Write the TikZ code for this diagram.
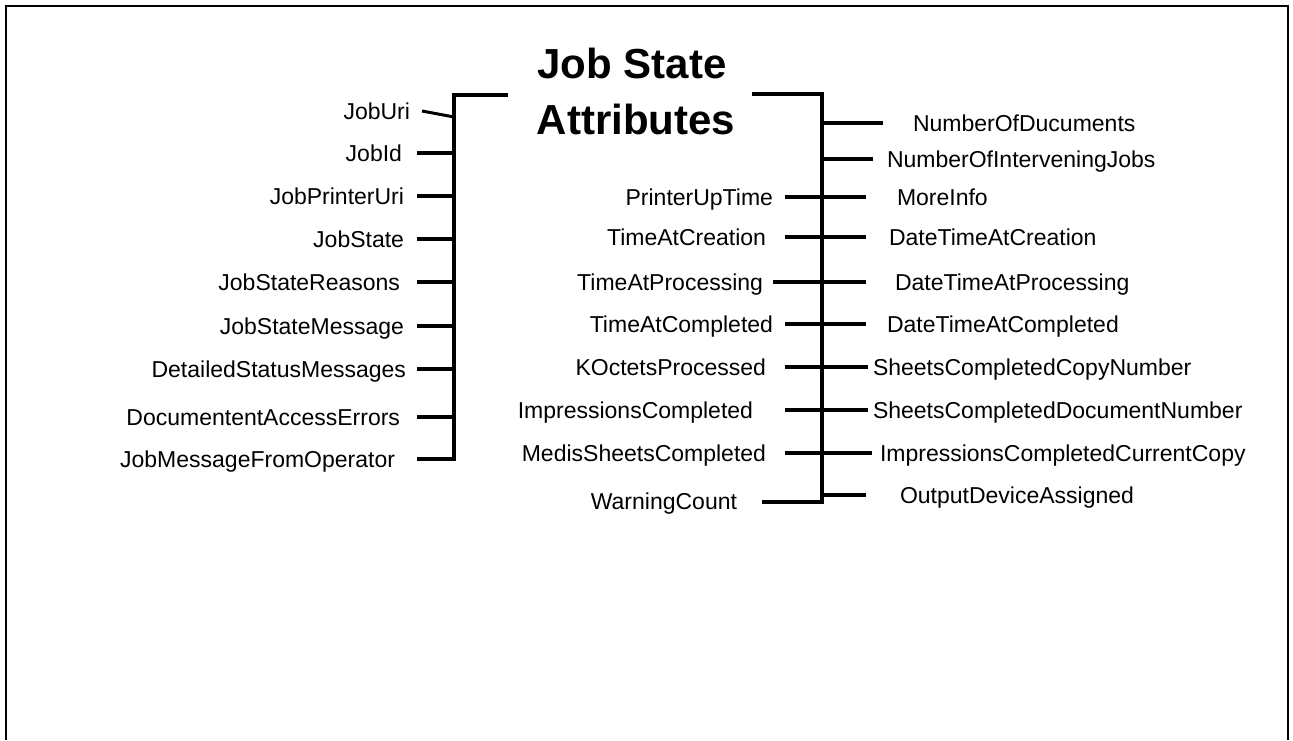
\documentclass[tikz,border=0pt]{standalone}
\usepackage{fontspec}
\setmainfont{Liberation Sans}

\tikzset{
    lab/.style={inner sep=0pt, outer sep=0pt, text height=8.2pt, text depth=0pt,
                font=\fontsize{11.5}{14}\selectfont},
    ttl/.style={inner sep=0pt, font=\fontsize{21}{28}\selectfont\bfseries},
    bar/.style={line width=2pt, line join=miter},
}

\begin{document}
\begin{tikzpicture}[x=0.5pt,y=-0.5pt]
        \useasboundingbox (0,0) rectangle (1293,740);
        \fill[white] (0,0) rectangle (1293,740);
        \draw[line width=1pt] (6,740) -- (6,6) -- (1288,6) -- (1288,740);

        \node[ttl, anchor=base] (title1) at (632,78) {Job State};
        \node[ttl, anchor=base] (title2) at (636,134) {Attributes};

        % columns of the bracket
        \coordinate (ls) at (417,0);
        \coordinate (lt) at (454,95);
        \coordinate (ms) at (785,0);
        \coordinate (rt) at (822,94);
        \coordinate (re) at (866,0);

        % left side
        \node[lab, anchor=east] (juri) at (410,111) {JobUri};
        \node[lab, anchor=east] (jid)  at (402,153) {JobId};
        \node[lab, anchor=east] (jpu)  at (404,196) {JobPrinterUri};
        \node[lab, anchor=east] (js)   at (404,239) {JobState};
        \node[lab, anchor=east] (jsr)  at (400,282) {JobStateReasons};
        \node[lab, anchor=east] (jsm)  at (404,326) {JobStateMessage};
        \node[lab, anchor=east] (dsm)  at (406,369) {DetailedStatusMessages};
        \node[lab, anchor=east] (dae)  at (400,417) {DocumententAccessErrors};
        \node[lab, anchor=east] (jmfo) at (395,459) {JobMessageFromOperator};

        % middle
        \node[lab, anchor=east] (put) at (773,197) {PrinterUpTime};
        \node[lab, anchor=east] (tac) at (766,237) {TimeAtCreation};
        \node[lab, anchor=east] (tap) at (763,282) {TimeAtProcessing};
        \node[lab, anchor=east] (tco) at (773,324) {TimeAtCompleted};
        \node[lab, anchor=east] (kop) at (766,367) {KOctetsProcessed};
        \node[lab, anchor=east] (ico) at (753,410) {ImpressionsCompleted};
        \node[lab, anchor=east] (msc) at (766,453) {MedisSheetsCompleted};
        \node[lab, anchor=east] (wc)  at (737,501) {WarningCount};

        % right side
        \node[lab, anchor=west] (nod)  at (913,123) {NumberOfDucuments};
        \node[lab, anchor=west] (noij) at (887,159) {NumberOfInterveningJobs};
        \node[lab, anchor=west] (mi)   at (897,197) {MoreInfo};
        \node[lab, anchor=west] (dtac) at (889,237) {DateTimeAtCreation};
        \node[lab, anchor=west] (dtap) at (895,282) {DateTimeAtProcessing};
        \node[lab, anchor=west] (dtco) at (887,324) {DateTimeAtCompleted};
        \node[lab, anchor=west] (sccn) at (873,367) {SheetsCompletedCopyNumber};
        \node[lab, anchor=west] (scdn) at (873,410) {SheetsCompletedDocumentNumber};
        \node[lab, anchor=west] (iccc) at (880,453) {ImpressionsCompletedCurrentCopy};
        \node[lab, anchor=west] (oda)  at (900,495) {OutputDeviceAssigned};

        % left bracket
        \draw[bar] ([xshift=27pt]lt) -- (lt) -- (lt |- jmfo.east) -- (jmfo.east -| ls);
        \draw[line width=1.5pt] ([xshift=6pt]juri.east) -- ([yshift=-3pt]juri.east -| lt);
        \draw[bar] (jid.east -| ls) -- (jid.east -| lt);
        \draw[bar] (jpu.east -| ls) -- (jpu.east -| lt);
        \draw[bar] (js.east -| ls) -- (js.east -| lt);
        \draw[bar] (jsr.east -| ls) -- (jsr.east -| lt);
        \draw[bar] (jsm.east -| ls) -- (jsm.east -| lt);
        \draw[bar] (dsm.east -| ls) -- (dsm.east -| lt);
        \draw[bar] (dae.east -| ls) -- (dae.east -| lt);

        % right bracket
        \draw[bar] ([xshift=-35pt]rt) -- (rt) -- (rt |- 0,502) -- ([xshift=12.5pt]wc.east |- 0,502);
        \draw[bar] (nod.west -| rt) -- ([xshift=-15pt]nod.west);
        \draw[bar] (noij.west -| rt) -- ([xshift=-7pt]noij.west);
        \draw[bar] (put.east -| ms) -- (mi.west -| re);
        \draw[bar] (tac.east -| ms) -- (dtac.west -| re);
        \draw[bar] ([xshift=5pt]tap.east) -- (dtap.west -| re);
        \draw[bar] (tco.east -| ms) -- (dtco.west -| re);
        \draw[bar] (kop.east -| ms) -- ([xshift=-2.5pt]sccn.west);
        \draw[bar] (ico.east -| ms) -- ([xshift=-2.5pt]scdn.west);
        \draw[bar] (msc.east -| ms) -- ([xshift=-4pt]iccc.west);
        \draw[bar] (oda.west -| rt) -- (oda.west -| re);
\end{tikzpicture}
\end{document}
